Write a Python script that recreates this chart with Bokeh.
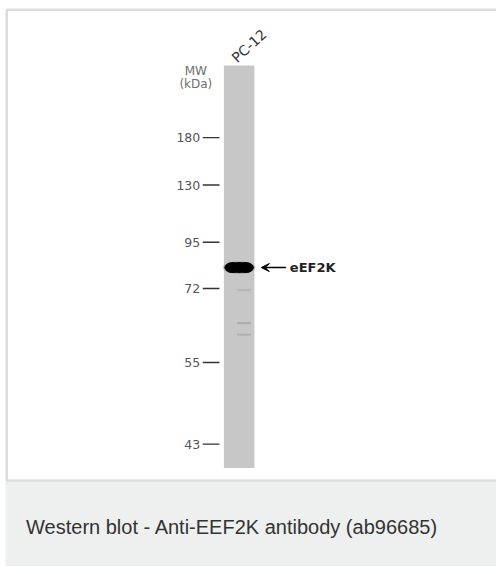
import numpy as np
from bokeh.plotting import figure
from bokeh.models import Range1d, Arrow, VeeHead, ColumnDataSource
from bokeh.core.properties import value
from bokeh.embed import file_html
from bokeh.resources import INLINE

# ---- data ----
sample_labels = ["PC-12"]
mw_labels = ["180", "130", "95", "72", "55", "43"]
mw_rf = [0.179, 0.297, 0.439, 0.554, 0.738, 0.941]      # relative migration in lane
band_rf = [0.502, 0.558, 0.640, 0.669]                   # detected bands
band_intensity = [1.0, 0.10, 0.14, 0.12]
band_name = "eEF2K"
caption = "Western blot - Anti-EEF2K antibody (ab96685)"

ARIAL = value("Liberation Sans")
WIDE = value("DejaVu Sans")

p = figure(width=496, height=566, output_backend="svg", toolbar_location=None,
           x_range=Range1d(0, 504), y_range=Range1d(574, 0),
           min_border=0, min_border_left=0, min_border_right=0,
           min_border_top=0, min_border_bottom=0)
p.axis.visible = False
p.grid.visible = False
p.outline_line_color = None
p.background_fill_color = "white"
p.border_fill_color = "white"

# panel frame and caption area
p.quad(left=6.3, right=510, top=9.3, bottom=487, fill_color="white",
       line_color="#dcdcdc", line_width=2.5)
p.quad(left=5, right=510, top=488, bottom=580, fill_color="#eef0ef", line_color=None)
p.text(x=[26], y=[534], text=[caption], text_font=ARIAL, text_font_size="20px",
       text_color="#333333", text_baseline="middle", text_align="left")

# lane
lane_left, lane_right, lane_top, lane_bottom = 227, 258, 66, 474
lane_len = lane_bottom - lane_top
lane_cx = (lane_left + lane_right) / 2
p.quad(left=lane_left, right=lane_right, top=lane_top, bottom=lane_bottom,
       fill_color="#c7c7c7", line_color=None)

# bands
band_y = [lane_top + r * lane_len for r in band_rf]
for y, inten in zip(band_y, band_intensity):
    if inten > 0.5:
        p.ellipse(x=[lane_cx], y=[y], width=33, height=13, fill_color="#555555",
                  fill_alpha=0.3, line_color=None)
        p.ellipse(x=[lane_cx], y=[y], width=30, height=11, fill_color="black",
                  line_color=None)
        p.ellipse(x=[lane_cx - 7], y=[y], width=15, height=11, fill_color="black",
                  line_color=None)
        p.ellipse(x=[lane_cx + 7], y=[y], width=15, height=11, fill_color="black",
                  line_color=None)
    else:
        p.rect(x=[lane_cx + 5], y=[y], width=14, height=2.2, fill_color="#8a8a8a",
               fill_alpha=inten * 3.0, line_color=None)

# MW markers
mw_y = [lane_top + r * lane_len for r in mw_rf]
src = ColumnDataSource(dict(y=mw_y, lab=mw_labels))
p.segment(x0=205.5, x1=222.5, y0="y", y1="y", source=src, line_color="#333333",
          line_width=1.4)
p.text(x=203, y="y", text="lab", source=src, text_font=WIDE, text_font_size="12.5px",
       text_color="#555555", text_align="right", text_baseline="middle")
p.text(x=[198.5, 198.5], y=[72, 85], text=["MW", "(kDa)"], text_font=WIDE,
       text_font_size="12px", text_color="#707070", text_align="center",
       text_baseline="middle")

# sample label
p.text(x=[252.5], y=[46], text=sample_labels, angle=0.74, text_font=WIDE,
       text_font_size="14px", text_color="#333333", text_align="center",
       text_baseline="middle")

# arrow + band label
p.add_layout(Arrow(x_start=290, y_start=band_y[0], x_end=265, y_end=band_y[0],
                   line_color="black", line_width=1.5,
                   end=VeeHead(size=8, fill_color="black", line_color="black")))
p.text(x=[294], y=[band_y[0]], text=[band_name], text_font=WIDE,
       text_font_size="13px", text_font_style="bold", text_color="#222222",
       text_align="left", text_baseline="middle")

open("out.html", "w").write(file_html(p, INLINE))
